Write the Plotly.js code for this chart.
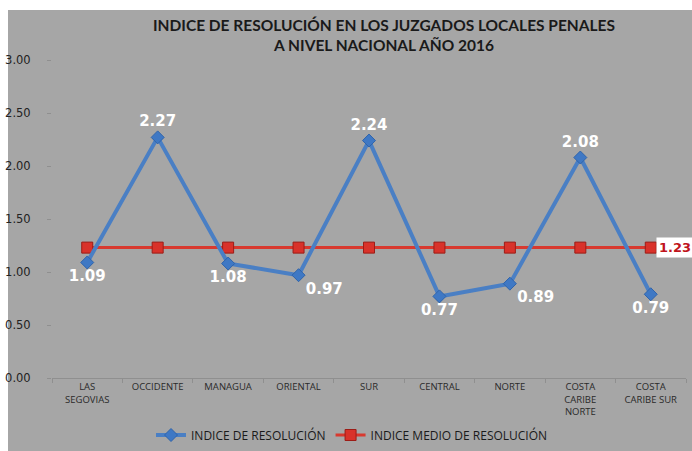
<!DOCTYPE html>
<html>
<head>
<meta charset="utf-8">
<script src="https://cdn.plot.ly/plotly-3.0.1.min.js"></script>
<style>html,body{margin:0;padding:0;background:#fff;}#chart{width:692px;height:451px;}</style>
</head>
<body>
<div id="chart"></div>
<script>
const categories = ["LAS<br>SEGOVIAS", "OCCIDENTE", "MANAGUA", "ORIENTAL", "SUR", "CENTRAL", "NORTE", "COSTA<br>CARIBE<br>NORTE", "COSTA<br>CARIBE SUR"];
const indiceResolucion = [1.09, 2.27, 1.08, 0.97, 2.24, 0.77, 0.89, 2.08, 0.79];
const indiceMedio = [1.23, 1.23, 1.23, 1.23, 1.23, 1.23, 1.23, 1.23, 1.23];
const labelPositions = ["bottom center", "top center", "bottom center", "bottom right", "top center", "bottom center", "bottom right", "top center", "bottom center"];
const seriesNames = ["INDICE DE RESOLUCIÓN", "INDICE MEDIO DE RESOLUCIÓN"];
const titleText = "INDICE DE RESOLUCIÓN EN LOS JUZGADOS LOCALES PENALES<br>A NIVEL NACIONAL AÑO 2016";

const W = 692, H = 451, L = 52, R = 6, T = 60, B = 73;
const pw = W - L - R, ph = H - T - B;

const traces = [
  {
    x: categories, y: indiceMedio, name: seriesNames[1], type: "scatter", mode: "lines+markers",
    line: {color: "#d8392f", width: 3},
    marker: {symbol: "square", size: 11, color: "#d9322a", line: {color: "#9c1c16", width: 1}},
    hoverinfo: "skip"
  },
  {
    x: categories, y: indiceResolucion, name: seriesNames[0], type: "scatter", mode: "lines+markers+text",
    line: {color: "#4a7fc4", width: 4},
    marker: {symbol: "diamond", size: 10, color: "#3f78c4", line: {color: "#2f64ab", width: 1}},
    text: indiceResolucion.map(v => v.toFixed(2)),
    textposition: labelPositions,
    textfont: {family: "DejaVu Sans", size: 15, color: "#ffffff", weight: "bold"},
    cliponaxis: false
  }
];

const layout = {
  width: W, height: H,
  margin: {l: L, r: R, t: T, b: B, pad: 0, autoexpand: false},
  paper_bgcolor: "#ffffff",
  plot_bgcolor: "rgba(0,0,0,0)",
  showlegend: true,
  title: {
    text: titleText,
    font: {family: "Lato", size: 15.5, color: "#1a1a1a", weight: "bold"},
    x: (384 - L) / pw, xref: "paper", xanchor: "center",
    y: 1 - 31 / H, yref: "container", yanchor: "middle"
  },
  xaxis: {
    type: "category",
    showgrid: false, zeroline: false,
    showline: true, linecolor: "#8f8f8f", linewidth: 1,
    ticks: "outside", ticklen: 4, tickcolor: "#8f8f8f", tickson: "boundaries",
    tickangle: 0, automargin: false,
    tickfont: {family: "Open Sans", size: 9.5, color: "#2a2a2a"},
    range: [-0.5, 8.5], fixedrange: true
  },
  yaxis: {
    range: [0, 3], dtick: 0.5, tickformat: ".2f",
    showgrid: false, zeroline: false, showline: false,
    ticks: "outside", ticklen: 4, tickcolor: "#8f8f8f",
    ticklabelstandoff: 14, automargin: false,
    tickfont: {family: "DejaVu Sans", size: 11.5, color: "#222222"},
    fixedrange: true
  },
  legend: {
    orientation: "h", x: (352 - L) / pw, xanchor: "center",
    y: -(435 - 378) / ph, yanchor: "middle",
    font: {family: "Open Sans", size: 12, color: "#1a1a1a"},
    traceorder: "reversed", itemwidth: 30,
    bgcolor: "rgba(0,0,0,0)"
  },
  shapes: [{
    type: "rect", xref: "paper", yref: "paper", layer: "below",
    x0: (8 - L) / pw, x1: (W - L) / pw,
    y0: (T + ph - H) / ph, y1: (T + ph - 10) / ph,
    fillcolor: "#a6a6a6", line: {width: 0}
  }],
  annotations: [{
    x: categories[8], y: indiceMedio[8], xref: "x", yref: "y",
    text: "<b>" + indiceMedio[8].toFixed(2) + "</b>",
    showarrow: false, xanchor: "left", yanchor: "middle", xshift: 5,
    font: {family: "DejaVu Sans", size: 13, color: "#c0141c"},
    bgcolor: "#ffffff", borderpad: 2
  }]
};

Plotly.newPlot("chart", traces, layout, {displayModeBar: false, staticPlot: true});
</script>
</body>
</html>
